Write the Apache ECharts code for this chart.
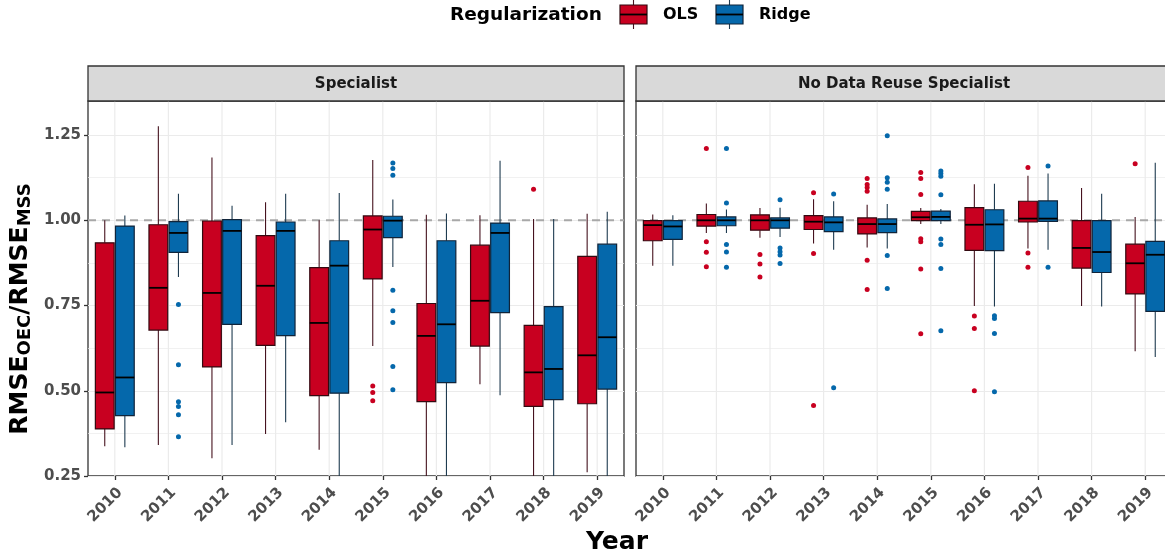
<!DOCTYPE html>
<html>
<head>
<meta charset="utf-8">
<script src="https://cdn.jsdelivr.net/npm/echarts@6.0.0/dist/echarts.min.js"></script>
<style>
  html, body { margin: 0; padding: 0; background: #ffffff; }
  #chart { width: 1165px; height: 556px; }
</style>
</head>
<body>
<div id="chart"></div>
<script>
// Years on the horizontal axis of both panels
const years = ['2010', '2011', '2012', '2013', '2014', '2015', '2016', '2017', '2018', '2019'];
const yTicks = [0.25, 0.5, 0.75, 1.0, 1.25];
const refValue = 1.0;

// Box summaries per year: [lower whisker, Q1, median, Q3, upper whisker]
const specialistOLS = [
  [0.337, 0.388, 0.495, 0.934, 1.000],
  [0.341, 0.678, 0.802, 0.987, 1.276],
  [0.302, 0.570, 0.787, 0.998, 1.184],
  [0.373, 0.633, 0.808, 0.955, 1.053],
  [0.327, 0.486, 0.699, 0.861, 1.000],
  [0.631, 0.828, 0.973, 1.013, 1.177],
  [0.250, 0.468, 0.661, 0.756, 1.016],
  [0.519, 0.631, 0.764, 0.927, 1.015],
  [0.250, 0.454, 0.554, 0.692, 1.004],
  [0.261, 0.462, 0.604, 0.894, 1.019]
];
const specialistRidge = [
  [0.334, 0.427, 0.539, 0.983, 1.014],
  [0.834, 0.906, 0.963, 0.996, 1.078],
  [0.341, 0.695, 0.969, 1.002, 1.043],
  [0.408, 0.662, 0.969, 0.995, 1.078],
  [0.250, 0.493, 0.867, 0.940, 1.080],
  [0.863, 0.949, 0.999, 1.012, 1.061],
  [0.250, 0.524, 0.695, 0.940, 1.020],
  [0.487, 0.729, 0.963, 0.992, 1.175],
  [0.250, 0.474, 0.564, 0.747, 1.004],
  [0.250, 0.505, 0.657, 0.930, 1.025]
];
const noReuseOLS = [
  [0.867, 0.940, 0.986, 0.999, 1.017],
  [0.963, 0.983, 1.000, 1.017, 1.049],
  [0.949, 0.971, 1.000, 1.016, 1.036],
  [0.932, 0.973, 0.996, 1.014, 1.062],
  [0.920, 0.960, 0.989, 1.007, 1.046],
  [0.989, 0.999, 1.009, 1.026, 1.036],
  [0.749, 0.912, 0.987, 1.037, 1.106],
  [0.917, 0.995, 1.005, 1.056, 1.131],
  [0.749, 0.860, 0.919, 0.999, 1.095],
  [0.616, 0.784, 0.874, 0.930, 1.010]
];
const noReuseRidge = [
  [0.867, 0.944, 0.982, 0.999, 1.015],
  [0.963, 0.984, 1.000, 1.010, 1.032],
  [0.951, 0.977, 1.000, 1.007, 1.037],
  [0.914, 0.967, 0.994, 1.010, 1.056],
  [0.917, 0.964, 0.989, 1.004, 1.048],
  [0.989, 0.999, 1.010, 1.027, 1.033],
  [0.747, 0.911, 0.988, 1.031, 1.107],
  [0.914, 0.997, 1.005, 1.057, 1.137],
  [0.747, 0.847, 0.907, 0.999, 1.078],
  [0.599, 0.733, 0.899, 0.938, 1.169]
];

// Outlying points: [year, value]
const specialistOLSOut = [
  ['2015', 0.514], ['2015', 0.495], ['2015', 0.471],
  ['2018', 1.091]
];
const specialistRidgeOut = [
  ['2011', 0.753], ['2011', 0.576], ['2011', 0.468], ['2011', 0.454], ['2011', 0.430], ['2011', 0.365],
  ['2015', 1.168], ['2015', 1.152], ['2015', 1.132], ['2015', 0.795], ['2015', 0.735],
  ['2015', 0.700], ['2015', 0.571], ['2015', 0.503]
];
const noReuseOLSOut = [
  ['2011', 1.211], ['2011', 0.937], ['2011', 0.906], ['2011', 0.864],
  ['2012', 0.900], ['2012', 0.872], ['2012', 0.834],
  ['2013', 1.081], ['2013', 0.903], ['2013', 0.457],
  ['2014', 1.123], ['2014', 1.105], ['2014', 1.096], ['2014', 1.085], ['2014', 0.883], ['2014', 0.797],
  ['2015', 1.140], ['2015', 1.123], ['2015', 1.076], ['2015', 0.946], ['2015', 0.937], ['2015', 0.857], ['2015', 0.667],
  ['2016', 0.719], ['2016', 0.683], ['2016', 0.500],
  ['2017', 1.155], ['2017', 0.904], ['2017', 0.862],
  ['2019', 1.166]
];
const noReuseRidgeOut = [
  ['2011', 1.211], ['2011', 1.051], ['2011', 0.929], ['2011', 0.907], ['2011', 0.862],
  ['2012', 1.060], ['2012', 0.919], ['2012', 0.908], ['2012', 0.898], ['2012', 0.873],
  ['2013', 1.077], ['2013', 0.509],
  ['2014', 1.248], ['2014', 1.125], ['2014', 1.112], ['2014', 1.091], ['2014', 0.897], ['2014', 0.800],
  ['2015', 1.145], ['2015', 1.137], ['2015', 1.129], ['2015', 1.075], ['2015', 0.945], ['2015', 0.929], ['2015', 0.859], ['2015', 0.676],
  ['2016', 0.720], ['2016', 0.712], ['2016', 0.668], ['2016', 0.497],
  ['2017', 1.159], ['2017', 0.862]
];

const FONT = 'DejaVu Sans';
const OLS = { fill: '#c80020', edge: '#330910', whisker: '#46131f' };
const RIDGE = { fill: '#0568ab', edge: '#10243a', whisker: '#1f3b50' };
const BOX_W = 0.35;   // box width as a fraction of the category band
const DODGE = 0.1875; // centre offset of each group from the category centre

const PANEL_TOP = 101, PANEL_H = 375, PANEL_W = 536;
const panels = [
  { left: 88, title: 'Specialist', ols: specialistOLS, ridge: specialistRidge, olsOut: specialistOLSOut, ridgeOut: specialistRidgeOut },
  { left: 636, title: 'No Data Reuse Specialist', ols: noReuseOLS, ridge: noReuseRidge, olsOut: noReuseOLSOut, ridgeOut: noReuseRidgeOut }
];

function boxRenderer(offset, pal) {
  return function (params, api) {
    const i = api.value(0);
    const band = api.size([1, 0])[0];
    const cx = api.coord([i, 1])[0] + offset * band;
    const half = band * BOX_W / 2;
    const py = k => api.coord([i, api.value(k)])[1];
    const lo = py(1), q1 = py(2), md = py(3), q3 = py(4), hi = py(5);
    return {
      type: 'group',
      children: [
        { type: 'line', shape: { x1: cx, y1: hi, x2: cx, y2: q3 }, style: { stroke: pal.whisker, lineWidth: 1.1 } },
        { type: 'line', shape: { x1: cx, y1: q1, x2: cx, y2: lo }, style: { stroke: pal.whisker, lineWidth: 1.1 } },
        { type: 'rect', shape: { x: cx - half, y: q3, width: 2 * half, height: q1 - q3 },
          style: { fill: pal.fill, stroke: pal.edge, lineWidth: 1.2 } },
        { type: 'line', shape: { x1: cx - half, y1: md, x2: cx + half, y2: md }, style: { stroke: '#000000', lineWidth: 1.8 } }
      ]
    };
  };
}

function pointRenderer(offset, pal) {
  return function (params, api) {
    const i = api.value(0);
    const band = api.size([1, 0])[0];
    const p = api.coord([i, api.value(1)]);
    return { type: 'circle', shape: { cx: p[0] + offset * band, cy: p[1], r: 2.5 }, style: { fill: pal.fill } };
  };
}

// horizontal dashed reference line across a panel
function refRenderer(params, api) {
  const cs = params.coordSys;
  const y = api.coord([0, api.value(0)])[1];
  return { type: 'line', shape: { x1: cs.x, y1: y, x2: cs.x + cs.width, y2: y },
    style: { stroke: '#a8a8a8', lineWidth: 2, lineDash: [8, 6] } };
}

// vertical grid line through each category centre
function vGridRenderer(params, api) {
  const cs = params.coordSys;
  const x = api.coord([api.value(0), 1])[0];
  return { type: 'line', shape: { x1: x, y1: cs.y, x2: x, y2: cs.y + cs.height },
    style: { stroke: '#ebebeb', lineWidth: 1.2 } };
}

const grids = [], xAxes = [], yAxes = [], series = [], graphics = [];

panels.forEach((p, g) => {
  grids.push({ left: p.left, top: PANEL_TOP, width: PANEL_W, height: PANEL_H, show: true,
    backgroundColor: '#ffffff', borderColor: '#333333', borderWidth: 1.3, containLabel: false, outerBoundsMode: 'none' });
  xAxes.push({
    type: 'category', gridIndex: g, data: years,
    axisLine: { show: false },
    axisTick: { show: true, alignWithLabel: true, length: 4, lineStyle: { color: '#333333', width: 1.3 } },
    axisLabel: { rotate: 45, margin: 9, align: 'right', verticalAlign: 'top', color: '#4d4d4d',
      fontFamily: FONT, fontWeight: 'bold', fontSize: 15 },
    splitLine: { show: false }
  });
  yAxes.push({
    type: 'value', gridIndex: g, min: 0.25, max: 1.35, interval: 0.25,
    axisLine: { show: false },
    axisTick: { show: g === 0, customValues: yTicks, length: 4, lineStyle: { color: '#333333', width: 1.3 } },
    axisLabel: { show: g === 0, customValues: yTicks, margin: 7, color: '#4d4d4d', fontFamily: FONT, fontWeight: 'bold', fontSize: 15,
      formatter: v => v.toFixed(2) },
    splitLine: { show: true, lineStyle: { color: '#ebebeb', width: 1.2 } },
    minorTick: { show: false, splitNumber: 2 },
    minorSplitLine: { show: true, lineStyle: { color: '#ebebeb', width: 0.7 } }
  });

  series.push({ type: 'custom', xAxisIndex: g, yAxisIndex: g, z: 1, silent: true,
    renderItem: vGridRenderer, data: years.map((_, i) => [i]), encode: { x: 0 } });
  series.push({ type: 'custom', xAxisIndex: g, yAxisIndex: g, z: 1, silent: true,
    renderItem: refRenderer, data: [[refValue]], encode: { y: 0 } });

  [[p.ols, -DODGE, OLS], [p.ridge, DODGE, RIDGE]].forEach(([rows, off, pal]) => {
    series.push({ type: 'custom', xAxisIndex: g, yAxisIndex: g, z: 2, clip: true,
      renderItem: boxRenderer(off, pal),
      data: rows.map((r, i) => [i].concat(r)),
      encode: { x: 0, y: [1, 2, 3, 4, 5] } });
  });
  [[p.olsOut, -DODGE, OLS], [p.ridgeOut, DODGE, RIDGE]].forEach(([pts, off, pal]) => {
    series.push({ type: 'custom', xAxisIndex: g, yAxisIndex: g, z: 3, clip: true,
      renderItem: pointRenderer(off, pal),
      data: pts.map(([yr, v]) => [years.indexOf(yr), v]),
      encode: { x: 0, y: 1 } });
  });

  // facet strip
  graphics.push({ type: 'rect', z: 10, shape: { x: p.left, y: 66, width: PANEL_W, height: 35 },
    style: { fill: '#d9d9d9', stroke: '#333333', lineWidth: 1.3 } });
  graphics.push({ type: 'text', z: 11, x: p.left + PANEL_W / 2, y: 84,
    style: { text: p.title, fill: '#1a1a1a', font: 'bold 15px "DejaVu Sans"', align: 'center', verticalAlign: 'middle' } });
});

// legend
function legendKey(x, pal) {
  const cx = x + 13.5;
  return [
    { type: 'line', z: 10, shape: { x1: cx, y1: 0, x2: cx, y2: 5 }, style: { stroke: pal.whisker, lineWidth: 1.1 } },
    { type: 'line', z: 10, shape: { x1: cx, y1: 24, x2: cx, y2: 29 }, style: { stroke: pal.whisker, lineWidth: 1.1 } },
    { type: 'rect', z: 10, shape: { x: x, y: 5, width: 27, height: 19 }, style: { fill: pal.fill, stroke: pal.edge, lineWidth: 1.2 } },
    { type: 'line', z: 11, shape: { x1: x, y1: 14.5, x2: x + 27, y2: 14.5 }, style: { stroke: '#000000', lineWidth: 1.8 } }
  ];
}
graphics.push({ type: 'text', z: 10, x: 450, y: 15,
  style: { text: 'Regularization', fill: '#000000', font: 'bold 18.5px "DejaVu Sans"', align: 'left', verticalAlign: 'middle' } });
graphics.push(...legendKey(620, OLS));
graphics.push({ type: 'text', z: 10, x: 663, y: 15,
  style: { text: 'OLS', fill: '#000000', font: 'bold 16px "DejaVu Sans"', align: 'left', verticalAlign: 'middle' } });
graphics.push(...legendKey(716, RIDGE));
graphics.push({ type: 'text', z: 10, x: 759, y: 15,
  style: { text: 'Ridge', fill: '#000000', font: 'bold 16px "DejaVu Sans"', align: 'left', verticalAlign: 'middle' } });

// axis titles
graphics.push({ type: 'text', z: 10, x: 617, y: 542,
  style: { text: 'Year', fill: '#000000', font: 'bold 25px "DejaVu Sans"', align: 'center', verticalAlign: 'middle' } });
graphics.push({ type: 'text', z: 10, x: 21, y: 309, rotation: Math.PI / 2,
  style: {
    text: '{m|RMSE}{s|OEC}{m|/RMSE}{s|MSS}',
    align: 'center', verticalAlign: 'middle',
    rich: {
      m: { fontFamily: FONT, fontWeight: 'bold', fontSize: 25, lineHeight: 26, fill: '#000000', verticalAlign: 'top' },
      s: { fontFamily: FONT, fontWeight: 'bold', fontSize: 18, lineHeight: 18, fill: '#000000', verticalAlign: 'bottom', padding: [11, 0, 0, 0] }
    }
  } });

const chart = echarts.init(document.getElementById('chart'), null, { renderer: 'canvas' });
chart.setOption({
  animation: false,
  backgroundColor: '#ffffff',
  grid: grids,
  xAxis: xAxes,
  yAxis: yAxes,
  series: series,
  graphic: graphics
});
</script>
</body>
</html>
